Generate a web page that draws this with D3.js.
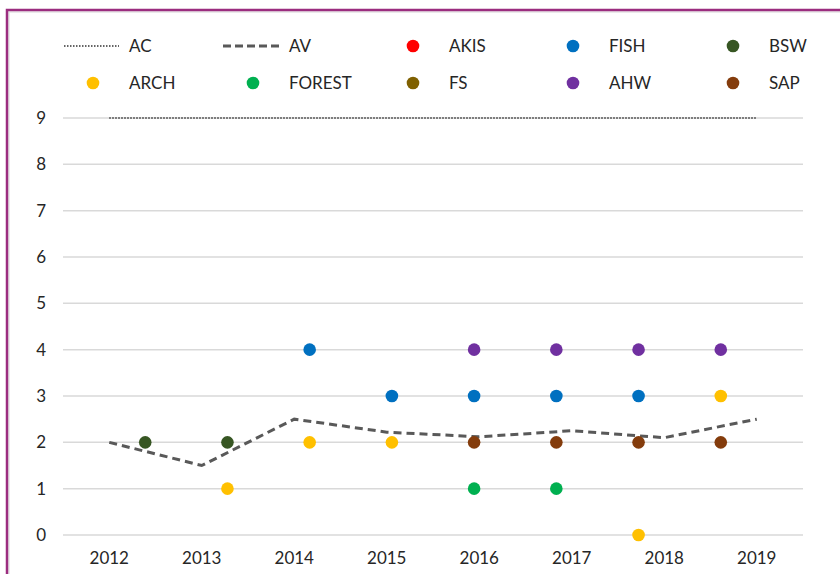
<!DOCTYPE html>
<html>
<head>
<meta charset="utf-8">
<script src="https://cdn.jsdelivr.net/npm/d3@7"></script>
<style>
  body { margin: 0; background: #fff; }
  text { font-family: Lato, "Liberation Sans", sans-serif; fill: #262626; }
</style>
</head>
<body>
<script>
var years = ["2012", "2013", "2014", "2015", "2016", "2017", "2018", "2019"];
var yTicks = [0, 1, 2, 3, 4, 5, 6, 7, 8, 9];

// line series on the category axis
var acValues = [9, 9, 9, 9, 9, 9, 9, 9];
var avValues = [2, 1.5, 2.5, 2.22, 2.12, 2.25, 2.1, 2.5];

// scatter series: [position 1..8, value]
var akisPoints = [];
var fishPoints = [[3, 4], [4, 3], [5, 3], [6, 3], [7, 3]];
var bswPoints = [[1, 2], [2, 2]];
var archPoints = [[2, 1], [3, 2], [4, 2], [7, 0], [8, 3]];
var forestPoints = [[5, 1], [6, 1]];
var fsPoints = [];
var ahwPoints = [[5, 4], [6, 4], [7, 4], [8, 4]];
var sapPoints = [[5, 2], [6, 2], [7, 2], [8, 2]];

var seriesNames = ["AKIS", "FISH", "BSW", "ARCH", "FOREST", "FS", "AHW", "SAP"];
var seriesColors = ["#ff0000", "#0070c0", "#375623", "#ffc000", "#00b050", "#7f6000", "#7030a0", "#843c0c"];
var seriesPoints = [akisPoints, fishPoints, bswPoints, archPoints, forestPoints, fsPoints, ahwPoints, sapPoints];

var width = 840, height = 574;
var svg = d3.select("body").append("svg").attr("width", width).attr("height", height);

// frame
svg.append("path").attr("d", "M9,574V12H840").attr("fill", "none").attr("stroke", "#e3e3e3").attr("stroke-width", 1.5);
svg.append("path").attr("d", "M7,574V10H840").attr("fill", "none").attr("stroke", "#9b2d7f").attr("stroke-width", 2.5);

var plotLeft = 63, plotRight = 803, plotTop = 118, plotBottom = 535;

var x = d3.scaleBand().domain(years).range([plotLeft, plotRight]);
var xs = d3.scaleLinear().domain([0, 9]).range([plotLeft, plotRight]);
var y = d3.scaleLinear().domain([0, 9]).range([plotBottom, plotTop]);

// gridlines
svg.append("g").selectAll("line").data(yTicks).enter().append("line")
    .attr("x1", plotLeft).attr("x2", plotRight)
    .attr("y1", function(d) { return y(d); }).attr("y2", function(d) { return y(d); })
    .attr("stroke", "#d9d9d9").attr("stroke-width", 1.5);

// y axis labels
var yAxis = svg.append("g").attr("transform", "translate(" + (plotLeft - 17) + ",0)")
    .call(d3.axisLeft(y).tickValues(yTicks).tickSize(0).tickPadding(0));
yAxis.select(".domain").remove();
yAxis.selectAll("text").attr("font-size", 17).style("font-family", "Lato, 'Liberation Sans', sans-serif").attr("fill", "#262626");

// x axis labels
var xAxis = svg.append("g").attr("transform", "translate(0," + (plotBottom + 16) + ")")
    .call(d3.axisBottom(x).tickSize(0).tickPadding(0));
xAxis.select(".domain").remove();
xAxis.selectAll("text").attr("font-size", 17).attr("dy", "0.75em").style("font-family", "Lato, 'Liberation Sans', sans-serif").attr("fill", "#262626");

var line = d3.line()
    .x(function(d, i) { return x(years[i]) + x.bandwidth() / 2; })
    .y(function(d) { return y(d); });

svg.append("path").datum(acValues).attr("d", line)
    .attr("fill", "none").attr("stroke", "#333").attr("stroke-width", 1.5).attr("stroke-dasharray", "1.5,1.5");

svg.append("path").datum(avValues).attr("d", line)
    .attr("fill", "none").attr("stroke", "#595959").attr("stroke-width", 3).attr("stroke-dasharray", "8,5");

// scatter points
seriesPoints.forEach(function(pts, k) {
  svg.append("g").selectAll("circle").data(pts).enter().append("circle")
      .attr("cx", function(d) { return xs(d[0]); })
      .attr("cy", function(d) { return y(d[1]); })
      .attr("r", 6.3)
      .attr("fill", seriesColors[k]);
});

// legend
var legend = svg.append("g");
var colX = [63, 223, 383, 543, 703];
var rowY = [46, 83];
var items = [{name: "AC", type: "ac"}, {name: "AV", type: "av"}];
seriesNames.forEach(function(n, i) { items.push({name: n, type: "dot", color: seriesColors[i]}); });

items.forEach(function(it, i) {
  var cx = colX[i % 5], cy = rowY[Math.floor(i / 5)];
  var g = legend.append("g").attr("transform", "translate(" + cx + "," + cy + ")");
  if (it.type === "ac") {
    g.append("line").attr("x1", 1).attr("x2", 56).attr("y1", 0).attr("y2", 0)
        .attr("stroke", "#333").attr("stroke-width", 1.5).attr("stroke-dasharray", "1.5,1.5");
  } else if (it.type === "av") {
    g.append("line").attr("x1", 0).attr("x2", 59).attr("y1", 0).attr("y2", 0)
        .attr("stroke", "#595959").attr("stroke-width", 3).attr("stroke-dasharray", "8,4");
  } else {
    g.append("circle").attr("cx", 30).attr("cy", 0).attr("r", 6.3).attr("fill", it.color);
  }
  g.append("text").attr("x", 66).attr("y", 0).attr("dy", "0.35em")
      .attr("font-size", 17).text(it.name);
});
</script>
</body>
</html>
